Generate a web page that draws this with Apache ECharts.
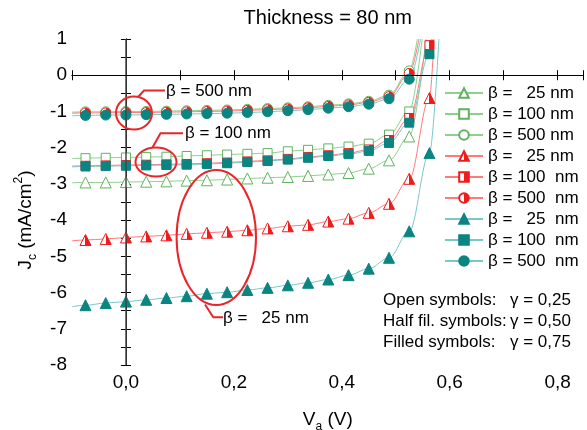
<!DOCTYPE html>
<html lang="en">
<head>
  <meta charset="UTF-8">
  <title>Thickness = 80 nm</title>
  <style>
    * { margin: 0; padding: 0; }
    body { background: #fff; }
    #main { width: 587px; height: 430px; }
  </style>
</head>
<body>
  <div id="main"></div>
  <script src="https://cdn.jsdelivr.net/npm/echarts@6/dist/echarts.min.js"></script>
  <script>
    // applied voltage of the marker points (V)
    var voltages = [-0.075, -0.0375, 0, 0.0375, 0.075, 0.1125, 0.15, 0.1875, 0.225, 0.2625,
      0.3, 0.3375, 0.375, 0.4125, 0.45, 0.4875, 0.525, 0.5625];

    // gamma = 0.25 (open symbols)
    var jcOpen25 = [-2.96, -2.96, -2.95, -2.94, -2.93, -2.91, -2.90, -2.88, -2.85, -2.83,
      -2.81, -2.78, -2.74, -2.70, -2.58, -2.35, -1.69, null];
    var jcOpen100 = [-2.29, -2.28, -2.27, -2.26, -2.25, -2.23, -2.21, -2.19, -2.17, -2.15,
      -2.10, -2.06, -2.02, -1.97, -1.89, -1.64, -1.00, null];
    var jcOpen500 = [-1.01, -1.01, -1.00, -1.00, -0.99, -0.98, -0.97, -0.96, -0.94, -0.92,
      -0.90, -0.87, -0.83, -0.79, -0.72, -0.55, 0.12, null];
    // gamma = 0.50 (half filled symbols)
    var jcHalf25 = [-4.55, -4.52, -4.48, -4.45, -4.42, -4.38, -4.35, -4.32, -4.28, -4.23,
      -4.17, -4.13, -4.04, -3.96, -3.80, -3.55, -2.86, -0.63];
    var jcHalf100 = [-2.50, -2.49, -2.48, -2.47, -2.46, -2.45, -2.43, -2.41, -2.38, -2.35,
      -2.31, -2.26, -2.21, -2.15, -2.05, -1.79, -1.18, 0.83];
    var jcHalf500 = [-1.04, -1.04, -1.03, -1.03, -1.02, -1.01, -1.00, -0.99, -0.97, -0.95,
      -0.93, -0.90, -0.86, -0.82, -0.75, -0.59, 0.05, null];
    // gamma = 0.75 (filled symbols)
    var jcFull25 = [-6.35, -6.29, -6.25, -6.20, -6.15, -6.10, -6.03, -5.99, -5.93, -5.87,
      -5.80, -5.73, -5.64, -5.52, -5.34, -5.04, -4.31, -2.15];
    var jcFull100 = [-2.52, -2.51, -2.50, -2.49, -2.48, -2.47, -2.45, -2.43, -2.40, -2.37,
      -2.33, -2.28, -2.23, -2.18, -2.09, -1.87, -1.31, 0.58];
    var jcFull500 = [-1.11, -1.10, -1.10, -1.09, -1.08, -1.07, -1.06, -1.05, -1.03, -1.01,
      -0.98, -0.95, -0.91, -0.87, -0.80, -0.65, -0.11, null];

    // where each fitted curve enters at the left edge (V = -0.1) and leaves the top (Jc = 1)
    var curveStartJ = [-2.97, -2.30, -1.02, -4.57, -2.51, -1.05, -6.39, -2.53, -1.12];
    var curveExitV = [0.556, 0.549, 0.540, 0.571, 0.566, 0.543, 0.580, 0.568, 0.546];

    var legendLabels = ['β =   25 nm', 'β = 100 nm', 'β = 500 nm',
      'β =   25 nm', 'β = 100  nm', 'β = 500  nm',
      'β =   25  nm', 'β = 100  nm', 'β = 500  nm'];

    var FONT = 'Liberation Sans, Arial, sans-serif';
    var GREEN = '#5fb35f', GREEN_LINE = '#8fd08f';
    var RED = '#ee1c1c', RED_LINE = '#ff7b7b';
    var TEAL = '#0b8582', TEAL_LINE = '#79c9c9';
    var MARK = '#e8262b';

    var halfRed = new echarts.graphic.LinearGradient(0, 0, 1, 0, [
      { offset: 0, color: '#fff' }, { offset: 0.5, color: '#fff' },
      { offset: 0.5, color: RED }, { offset: 1, color: RED }
    ]);

    var groups = [
      { vals: jcOpen25, symbol: 'triangle', size: 11, fill: '#fff', border: GREEN, line: GREEN_LINE },
      { vals: jcOpen100, symbol: 'rect', size: 9, fill: '#fff', border: GREEN, line: GREEN_LINE },
      { vals: jcOpen500, symbol: 'circle', size: 10, fill: '#fff', border: GREEN, line: GREEN_LINE },
      { vals: jcHalf25, symbol: 'triangle', size: 11, fill: halfRed, border: RED, line: RED_LINE },
      { vals: jcHalf100, symbol: 'rect', size: 9, fill: halfRed, border: RED, line: RED_LINE },
      { vals: jcHalf500, symbol: 'circle', size: 10, fill: halfRed, border: RED, line: RED_LINE },
      { vals: jcFull25, symbol: 'triangle', size: 11, fill: TEAL, border: TEAL, line: TEAL_LINE },
      { vals: jcFull100, symbol: 'rect', size: 9, fill: TEAL, border: TEAL, line: TEAL_LINE },
      { vals: jcFull500, symbol: 'circle', size: 10, fill: TEAL, border: TEAL, line: TEAL_LINE }
    ];

    function buildData(vals, k) {
      var d = [{ value: [-0.1, curveStartJ[k]], symbol: 'none' }];
      vals.forEach(function (j, i) {
        if (j !== null) d.push([voltages[i], j]);
      });
      d.push({ value: [curveExitV[k], 1], symbol: 'none' });
      return d;
    }

    var series = groups.map(function (g, k) {
      return {
        name: 's' + k,
        type: 'line',
        smooth: 0.35,
        smoothMonotone: 'x',
        symbol: g.symbol,
        symbolSize: g.size,
        data: buildData(g.vals, k),
        lineStyle: { color: g.line, width: 1 },
        itemStyle: { color: g.fill, borderColor: g.border, borderWidth: 1 },
        emphasis: { disabled: true },
        animation: false
      };
    });

    // reference lines at V = 0 and Jc = 0
    series[0].markLine = {
      silent: true, symbol: 'none', animation: false, label: { show: false },
      data: [
        { xAxis: 0, lineStyle: { color: '#444', width: 1.5, type: 'solid' } },
        { yAxis: 0, lineStyle: { color: '#000', width: 1, type: 'solid' } }
      ]
    };

    var names = series.map(function (s) { return s.name; });

    function xLabel(v) {
      var t = Math.round(v * 10);
      if (Math.abs(v * 10 - t) > 1e-6 || t % 2 !== 0) return '';
      return (t / 10).toFixed(1).replace('.', ',');
    }
    function yLabel(v) {
      var t = Math.round(v);
      return Math.abs(v - t) < 1e-6 ? String(t) : '';
    }

    function txt(x, y, s, size, align) {
      return {
        type: 'text', x: x, y: y, z: 100,
        style: { text: s, fontSize: size, fontFamily: FONT, fill: '#000',
          align: align || 'left', verticalAlign: 'middle' }
      };
    }
    function stroke() {
      return { fill: 'none', stroke: MARK, lineWidth: 2 };
    }

    var axisCommon = {
      axisLine: { lineStyle: { color: '#000', width: 1 } },
      axisTick: { inside: true, length: 5, lineStyle: { color: '#000' } },
      splitLine: { show: false }
    };

    var chart = echarts.init(document.getElementById('main'));
    chart.setOption({
      animation: false,
      textStyle: { fontFamily: FONT },
      grid: { left: 72, right: 3.5, top: 39, bottom: 65, outerBoundsMode: 'none' },
      xAxis: [
        Object.assign({
          type: 'value', min: -0.1, max: 0.848, interval: 0.1, position: 'bottom',
          axisLabel: { fontSize: 19, color: '#000', margin: 8, formatter: xLabel },
          name: '{a|V}{s|a}{a| (V)}', nameLocation: 'middle', nameGap: 42,
          nameTextStyle: {
            rich: {
              a: { fontSize: 19, color: '#000', lineHeight: 26, fontFamily: FONT },
              s: { fontSize: 12, color: '#000', lineHeight: 26, verticalAlign: 'bottom', fontFamily: FONT }
            }
          }
        }, axisCommon),
        Object.assign({
          type: 'value', min: -0.1, max: 0.848, interval: 0.1, position: 'top',
          axisLabel: { show: false }
        }, axisCommon)
      ],
      yAxis: [
        Object.assign({
          type: 'value', min: -8, max: 1, interval: 0.5, position: 'left',
          axisLabel: { fontSize: 19, color: '#000', margin: 5, formatter: yLabel }
        }, axisCommon),
        Object.assign({
          type: 'value', min: -8, max: 1, interval: 0.5, position: 'right',
          axisLabel: { show: false }
        }, axisCommon)
      ],
      legend: {
        data: names,
        orient: 'vertical',
        left: 444, top: 83.5, padding: 0,
        itemWidth: 38, itemHeight: 12, itemGap: 2,
        selectedMode: false,
        textStyle: { fontSize: 17, color: '#000', fontFamily: FONT, lineHeight: 19 },
        formatter: function (n) { return legendLabels[names.indexOf(n)]; }
      },
      series: series,
      graphic: [
        txt(327.75, 18, 'Thickness = 80 nm', 20, 'center'),
        // y axis title, rotated
        {
          type: 'text', x: 26, y: 220, rotation: Math.PI / 2,
          style: {
            text: '{a|J}{s|c}{a| (mA/cm}{p|2}{a|)}', align: 'center', verticalAlign: 'middle',
            rich: {
              a: { fontSize: 19, fill: '#000', lineHeight: 26, fontFamily: FONT },
              s: { fontSize: 12, fill: '#000', lineHeight: 26, verticalAlign: 'bottom', fontFamily: FONT },
              p: { fontSize: 12, fill: '#000', lineHeight: 26, verticalAlign: 'top', fontFamily: FONT }
            }
          }
        },
        // callout ellipses
        { type: 'ellipse', shape: { cx: 134, cy: 113, rx: 18, ry: 16.5 }, style: stroke(), z: 100 },
        { type: 'polyline', shape: { points: [[138, 97], [144, 90.5], [165, 90.5]] }, style: stroke(), z: 100 },
        txt(166, 91, 'β = 500 nm', 17),
        { type: 'ellipse', shape: { cx: 156, cy: 162, rx: 20.5, ry: 14.5 }, style: stroke(), z: 100 },
        { type: 'polyline', shape: { points: [[152.5, 147.5], [160.5, 133.3], [183, 133.3]] }, style: stroke(), z: 100 },
        txt(185, 133.5, 'β = 100 nm', 17),
        { type: 'ellipse', shape: { cx: 216.3, cy: 237.5, rx: 39.7, ry: 67.5 }, style: stroke(), z: 100 },
        { type: 'polyline', shape: { points: [[205, 304.5], [213.3, 317.3], [223, 317.3]] }, style: stroke(), z: 100 },
        txt(223, 318, 'β =   25 nm', 17),
        // symbol key
        txt(383, 300, 'Open symbols:', 17),
        txt(510, 300, 'γ = 0,25', 17),
        txt(383, 321.5, 'Half fil. symbols:', 17),
        txt(510, 321.5, 'γ = 0,50', 17),
        txt(383, 342.5, 'Filled symbols:', 17),
        txt(510, 342.5, 'γ = 0,75', 17)
      ]
    });
  </script>
</body>
</html>
